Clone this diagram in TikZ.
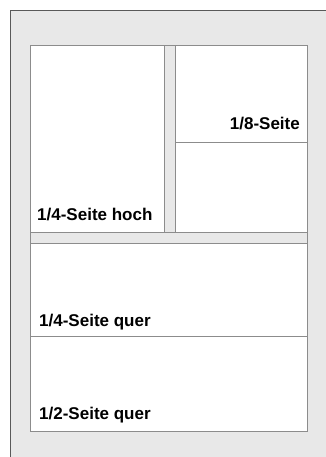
\documentclass[tikz,border=0pt]{standalone}
\usepackage{fontspec}
\newfontfamily\labelfont{Liberation Sans}
\usetikzlibrary{positioning}

\begin{document}
\begin{tikzpicture}[
        x=1pt, y=-1pt,
        box/.style={draw=black!45, fill=white, line width=1pt, inner sep=0pt, anchor=north west},
        gutter/.style={box, fill=black!9},
        labelstyle/.style={font=\labelfont\bfseries\fontsize{17}{20}\selectfont, inner sep=0pt}
    ]
    \useasboundingbox (0,0) rectangle (326,457);

    % --- Grey panel ---
    \fill[black!9] (10,11) rectangle (326,457);
    \draw[black!65, line width=1pt] (10,457) |- (326,11);

    % --- Top half of the page ---
    \node[box, minimum width=134, minimum height=187] (hoch) at (30,45) {};
    \node[gutter, minimum width=11, minimum height=187] (vgap) at (164,45) {};
    \node[box, minimum width=131.5, minimum height=97] (achtel) at (175,45) {};
    \node[box, minimum width=131.5, minimum height=90] (leer) at (175,142) {};

    % --- Gutter ---
    \node[gutter, minimum width=276.5, minimum height=11] (hgap) at (30,232) {};

    % --- Bottom half of the page ---
    \node[box, minimum width=276.5, minimum height=93] (quer) at (30,243) {};
    \node[box, minimum width=276.5, minimum height=95] (halb) at (30,336) {};

    % --- Labels ---
    \node[labelstyle, anchor=base west] (thoch) at (37,220) {1/4-Seite hoch};
    \node[labelstyle, anchor=base east] (tachtel) at (300,130) {1/8-Seite};
    \node[labelstyle, anchor=base west] (tquer) at (39,326.5) {1/4-Seite quer};
    \node[labelstyle, anchor=base west] (thalb) at (39,419) {1/2-Seite quer};

\end{tikzpicture}
\end{document}
